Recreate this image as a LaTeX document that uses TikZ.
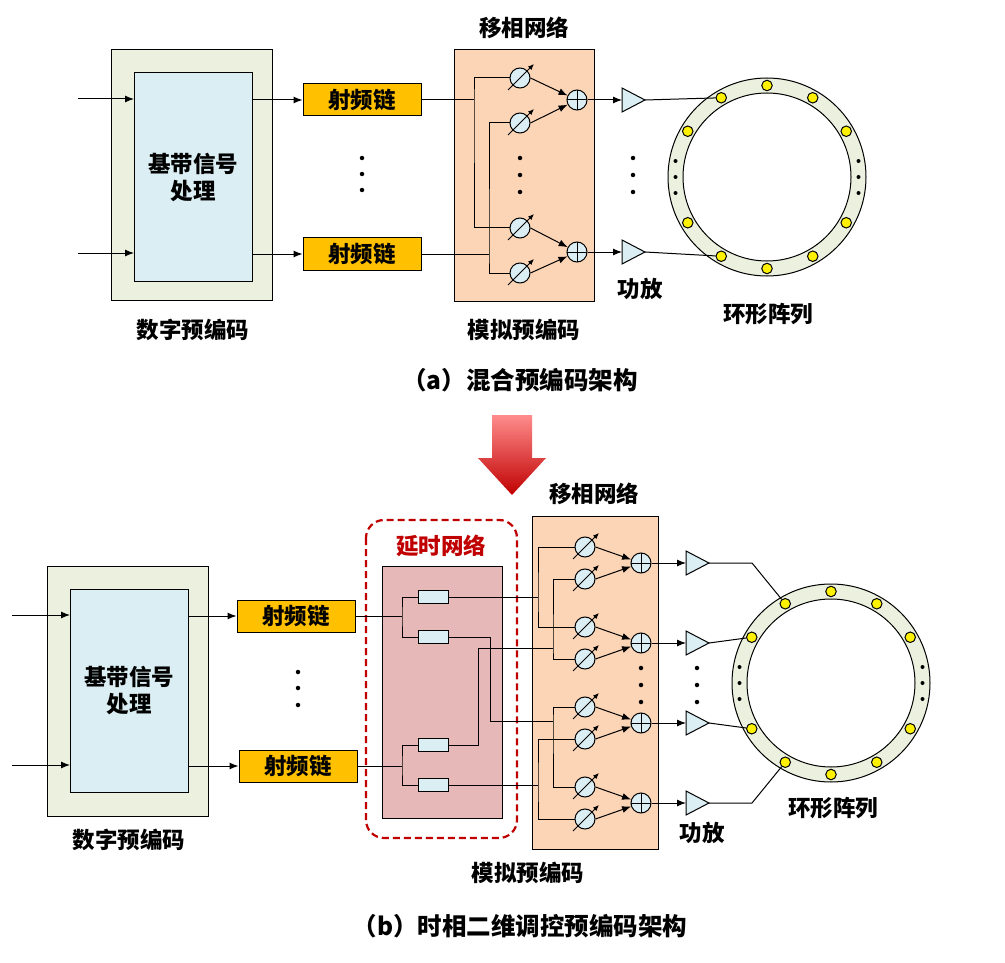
\documentclass[tikz,border=0pt]{standalone}
\usepackage{fontspec}
\setmainfont{Liberation Serif}
\newfontfamily\hei{Noto Sans CJK SC}
\usetikzlibrary{arrows.meta,positioning,calc}

\definecolor{boxgreen}{HTML}{EBF1DE}
\definecolor{boxblue}{HTML}{DAEEF3}
\definecolor{rforange}{HTML}{FFC000}
\definecolor{peach}{HTML}{FBD5B5}
\definecolor{delaypink}{HTML}{E6B9B8}
\definecolor{darkred}{HTML}{C00000}

\tikzset{
  lbl/.style={font=\hei\bfseries\fontsize{22.5}{27}\selectfont, align=center},
  captext/.style={font=\hei\bfseries\fontsize{24.5}{29}\selectfont},
  rfbox/.style={draw, fill=rforange, minimum width=118, minimum height=32, inner sep=0, lbl},
  shifter/.style={draw, circle, fill=boxblue, minimum size=20, inner sep=0},
  combiner/.style={draw, circle, fill=boxblue, minimum size=20, inner sep=0,
    path picture={\draw (path picture bounding box.north)--(path picture bounding box.south)
      (path picture bounding box.west)--(path picture bounding box.east);}},
  delay/.style={draw, fill=boxblue, minimum width=30, minimum height=13, inner sep=0},
  elem/.style={draw, circle, fill=yellow, minimum size=10.5, inner sep=0},
  sig/.style={-{Latex[length=9,width=7]}},
  dot/.style={circle, fill=black, minimum size=4.5, inner sep=0}
}

\begin{document}
\begin{tikzpicture}[x=1pt, y=-1pt, line width=1pt]
\useasboundingbox (0,0) rectangle (1005,963);

% ---------------- (a) ----------------
% Digital precoding
\draw[fill=boxgreen] (111,50) rectangle (272,300);
\draw[fill=boxblue] (134,73) rectangle (252,281);
\node[lbl] (bbA) at (193,177) {基带信号\\处理};
\node[lbl] at (193,330) {数字预编码};
\draw[sig] (78,99) -- (134,99);
\draw[sig] (78,253) -- (134,253);

% RF chains
\node[rfbox] (rfA1) at (362,100) {射频链};
\node[rfbox] (rfA2) at (362,254) {射频链};
\draw[sig] (252,100) -- (rfA1.west);
\draw[sig] (252,254) -- (rfA2.west);
\foreach \y in {158,174,190} \node[dot] at (362,\y) {};

% Phase shifter network
\draw[fill=peach] (454,50) rectangle (594,301);
\node[lbl] at (524,28) {移相网络};
\node[lbl] at (524,330) {模拟预编码};
\foreach \n/\y in {1/78,2/123,3/228,4/273} {
  \node[shifter] (pa\n) at (520,\y) {};
  \draw[-{Latex[length=6,width=5]}] (508,\y+12) -- (534,\y-14);
}
\node[combiner] (caA1) at (577,100) {};
\node[combiner] (caA2) at (577,252) {};
\foreach \n/\c in {1/1,2/1,3/2,4/2} \draw[sig] (pa\n.east) -- (caA\c);
\draw (rfA1.east) -- (474,100);
\draw (pa1.west) -| (474,100) |- (pa3.west);
\draw (rfA2.east) -- (489,254);
\draw (pa2.west) -| (489,254) |- (pa4.west);
\foreach \y in {158,175,192} {\node[dot] at (520,\y) {}; \node[dot] at (633,\y) {};}

% Amplifiers
\foreach \n/\y in {1/100,2/252} {
  \draw[fill=boxblue] (622,\y-12) -- (645,\y) -- (622,\y+12) -- cycle;
  \coordinate (ampA\n) at (645,\y);
  \draw[sig] (caA\n.east) -- (622,\y);
}
\node[lbl] at (640,289) {功放};

% Ring array
\node[draw, circle, fill=boxgreen, minimum size=198, inner sep=0] (ringA) at (767,177) {};
\node[draw, circle, fill=white, minimum size=168, inner sep=0] at (767,177) {};
\foreach \a in {30,60,90,120,150,210,240,270,300,330}
  \node[elem] (eA\a) at ($(767,177)+(\a:91.5 and -91.5)$) {};
\foreach \d in {-16,0,16} {
  \node[dot, minimum size=4] at ($(767,177)+(91.5,\d)$) {};
  \node[dot, minimum size=4] at ($(767,177)+(-91.5,\d)$) {};
}
\draw (ampA1) -- (eA120);
\draw (ampA2) -- (eA240);
\node[lbl] at (768,314) {环形阵列};

\node[captext] at (520,380) {（a）混合预编码架构};

% Transition arrow
\shade[top color=red!45, bottom color=darkred]
  (492,415) -- (532,415) -- (532,458) -- (546,458) -- (512,495) -- (478,458) -- (492,458) -- cycle;

% ---------------- (b) ----------------
\draw[fill=boxgreen] (47,566) rectangle (208,816);
\draw[fill=boxblue] (70,589) rectangle (188,792);
\node[lbl] (bbB) at (129,690) {基带信号\\处理};
\node[lbl] at (129,840) {数字预编码};
\draw[sig] (12,615) -- (70,615);
\draw[sig] (12,765) -- (70,765);

\node[rfbox] (rfB1) at (296,616) {射频链};
\node[rfbox] (rfB2) at (298,766) {射频链};
\draw[sig] (188,616) -- (rfB1.west);
\draw[sig] (188,766) -- (rfB2.west);
\foreach \y in {672,688,705} \node[dot] at (298,\y) {};

% Delay network
\draw[darkred, line width=2.2pt, dash pattern=on 7pt off 4pt, rounded corners=18]
  (366,520) rectangle (517,838);
\node[lbl, text=darkred] at (441,546) {延时网络};
\draw[fill=delaypink] (382,566) rectangle (502,818);
\foreach \n/\y in {1/597,2/637,3/745,4/785} \node[delay] (d\n) at (433,\y) {};
\draw (rfB1.east) -- (402,616);
\draw (d1.west) -| (402,616) |- (d2.west);
\draw (rfB2.east) -- (402,766);
\draw (d3.west) -| (402,766) |- (d4.west);

% Phase shifter network
\draw[fill=peach] (532,516) rectangle (658,849);
\node[lbl] at (594,494) {移相网络};
\node[lbl] at (528,873) {模拟预编码};
\foreach \n/\y in {1/547,2/579,3/627,4/659,5/707,6/739,7/787,8/819} {
  \node[shifter] (pb\n) at (585,\y) {};
  \draw[-{Latex[length=6,width=5]}] (573,\y+12) -- (599,\y-14);
}
\foreach \n/\y in {1/563,2/643,3/723,4/803} \node[combiner] (cb\n) at (641,\y) {};
\foreach \s/\c in {1/1,2/1,3/2,4/2,5/3,6/3,7/4,8/4} \draw[sig] (pb\s.east) -- (cb\c);

% Routing delay -> shifters
\draw (d1.east) -- (538,597);
\draw (pb1.west) -| (538,597) |- (pb3.west);
\draw (d4.east) -- (538,785);
\draw (pb6.west) -| (538,785) |- (pb8.west);
\draw (d2.east) -| (490,721) -- (553,721);
\draw (pb5.west) -| (553,721) |- (pb7.west);
\draw (d3.east) -| (478,648) -- (553,648);
\draw (pb2.west) -| (553,648) |- (pb4.west);
\foreach \y in {668,685,702} {\node[dot] at (641,\y) {}; \node[dot] at (697,\y) {};}

% Amplifiers
\foreach \n/\y in {1/563,2/643,3/723,4/803} {
  \draw[fill=boxblue] (686,\y-12) -- (709,\y) -- (686,\y+12) -- cycle;
  \coordinate (ampB\n) at (709,\y);
  \draw[sig] (cb\n.east) -- (686,\y);
}
\node[lbl] at (702,833) {功放};

% Ring array
\node[draw, circle, fill=boxgreen, minimum size=198, inner sep=0] (ringB) at (831,683) {};
\node[draw, circle, fill=white, minimum size=168, inner sep=0] at (831,683) {};
\foreach \a in {30,60,90,120,150,210,240,270,300,330}
  \node[elem] (eB\a) at ($(831,683)+(\a:91.5 and -91.5)$) {};
\foreach \d in {-16,0,16} {
  \node[dot, minimum size=4] at ($(831,683)+(91.5,\d)$) {};
  \node[dot, minimum size=4] at ($(831,683)+(-91.5,\d)$) {};
}
\draw (ampB1) -- (752,563) -- (eB120);
\draw (ampB2) -- (eB150);
\draw (ampB3) -- (eB210);
\draw (ampB4) -- (752,803) -- (eB240);
\node[lbl] at (833,808) {环形阵列};

\node[captext] at (520,926) {（b）时相二维调控预编码架构};
\end{tikzpicture}
\end{document}
